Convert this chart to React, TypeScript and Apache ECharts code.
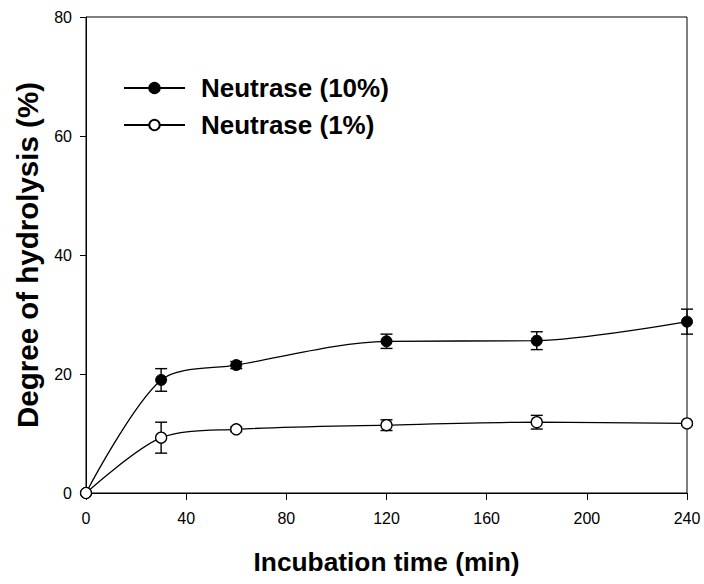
import React, { useEffect, useRef } from "react";
import * as echarts from "echarts";

const times = [0, 30, 60, 120, 180, 240];
const neutrase10 = [0, 19.0, 21.5, 25.5, 25.6, 28.8];
const neutrase10Err = [0, 1.9, 0.6, 1.2, 1.5, 2.1];
const neutrase1 = [0, 9.3, 10.7, 11.4, 11.9, 11.7];
const neutrase1Err = [0, 2.6, 0.4, 0.9, 1.15, 0.3];
const xTicks = [0, 40, 80, 120, 160, 200, 240];
const yTicks = [0, 20, 40, 60, 80];

const FONT = "'Liberation Sans', Arial, sans-serif";

function errData(vals: number[], errs: number[]) {
  return times
    .map((t, i) => [t, vals[i] - errs[i], vals[i] + errs[i]])
    .filter((d, i) => errs[i] > 0);
}

function renderErr(params: any, api: any) {
  const x = api.value(0);
  const lo = api.coord([x, api.value(1)]);
  const hi = api.coord([x, api.value(2)]);
  const w = 6;
  const style = { stroke: "#000", lineWidth: 1.4 };
  return {
    type: "group",
    children: [
      { type: "line", shape: { x1: lo[0], y1: lo[1], x2: hi[0], y2: hi[1] }, style },
      { type: "line", shape: { x1: lo[0] - w, y1: lo[1], x2: lo[0] + w, y2: lo[1] }, style },
      { type: "line", shape: { x1: hi[0] - w, y1: hi[1], x2: hi[0] + w, y2: hi[1] }, style },
    ],
  };
}

export default function App() {
  const ref = useRef<HTMLDivElement>(null);
  useEffect(() => {
    if (!ref.current) return;
    const chart = echarts.init(ref.current, undefined, { renderer: "svg" });
    chart.setOption({
      animation: false,
      backgroundColor: "#fff",
      grid: {
        left: 86,
        right: 17,
        top: 17,
        bottom: 91,
        show: true,
        borderColor: "#000",
        borderWidth: 1,
      },
      legend: {
        orient: "vertical",
        left: 123,
        top: 73,
        padding: 0,
        itemWidth: 61,
        itemHeight: 13,
        itemGap: 7,
        data: ["Neutrase (10%)", "Neutrase (1%)"],
        textStyle: {
          fontFamily: FONT,
          fontWeight: "bold",
          fontSize: 26,
          color: "#000",
          lineHeight: 30,
          padding: [0, 0, 0, 11],
        },
      },
      xAxis: {
        type: "value",
        min: 0,
        max: 240,
        interval: 40,
        name: "Incubation time (min)",
        nameLocation: "middle",
        nameGap: 56,
        nameTextStyle: { fontFamily: FONT, fontWeight: "bold", fontSize: 26.3, color: "#000", verticalAlign: "top" },
        axisLine: { show: true, lineStyle: { color: "#000", width: 1 } },
        axisTick: { show: true, length: 7, lineStyle: { color: "#000" } },
        axisLabel: { fontFamily: FONT, fontSize: 16, color: "#000", margin: 17 },
        splitLine: { show: false },
      },
      yAxis: {
        type: "value",
        min: 0,
        max: 80,
        interval: 20,
        name: "Degree of hydrolysis (%)",
        nameLocation: "middle",
        nameGap: 44,
        nameRotate: 90,
        nameTextStyle: { fontFamily: FONT, fontWeight: "bold", fontSize: 29.5, color: "#000" },
        axisLine: { show: true, lineStyle: { color: "#000", width: 1 } },
        axisTick: { show: true, length: 6, lineStyle: { color: "#000" } },
        axisLabel: { fontFamily: FONT, fontSize: 16, color: "#000", margin: 14 },
        splitLine: { show: false },
      },
      series: [
        {
          type: "custom",
          name: "err10",
          renderItem: renderErr,
          data: errData(neutrase10, neutrase10Err),
          z: 1,
          silent: true,
        },
        {
          type: "custom",
          name: "err1",
          renderItem: renderErr,
          data: errData(neutrase1, neutrase1Err),
          z: 1,
          silent: true,
        },
        {
          type: "line",
          name: "Neutrase (10%)",
          data: times.map((t, i) => [t, neutrase10[i]]),
          smooth: 0.3,
          symbol: "circle",
          symbolSize: 11,
          lineStyle: { color: "#000", width: 1.3 },
          itemStyle: { color: "#000", borderColor: "#000", borderWidth: 1 },
          z: 3,
        },
        {
          type: "line",
          name: "Neutrase (1%)",
          data: times.map((t, i) => [t, neutrase1[i]]),
          smooth: 0.3,
          symbol: "circle",
          symbolSize: 11,
          showAllSymbol: true,
          lineStyle: { color: "#000", width: 1.3 },
          itemStyle: { color: "#fff", borderColor: "#000", borderWidth: 1.3 },
          z: 4,
        },
      ],
    });
    return () => chart.dispose();
  }, []);
  return (
    <div
      ref={ref}
      style={{ position: "fixed", left: 0, top: 0, width: 704, height: 584 }}
    />
  );
}
